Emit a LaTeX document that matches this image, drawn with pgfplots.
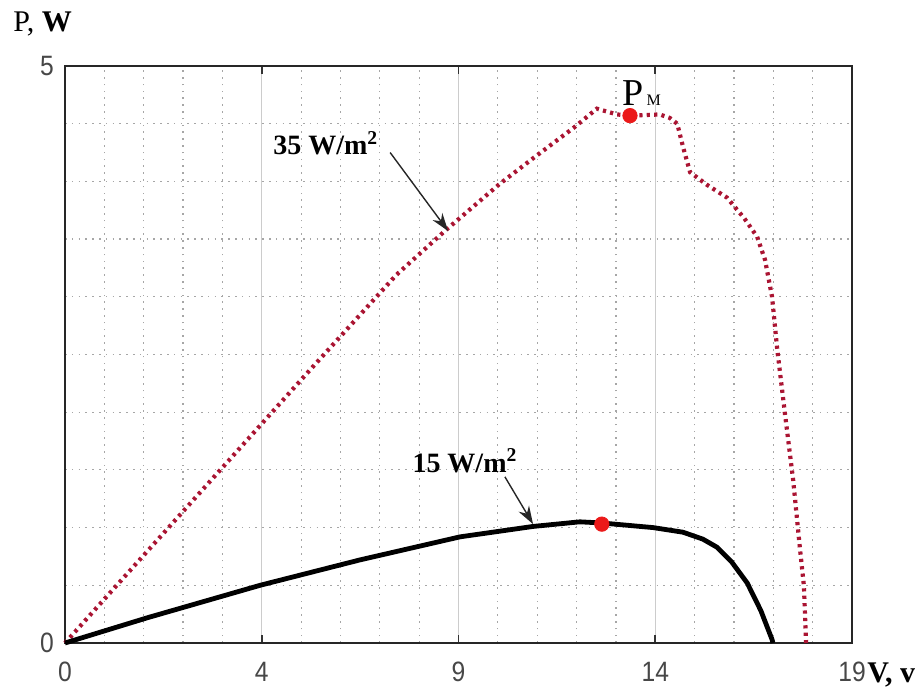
\documentclass[border=0pt]{standalone}
\usepackage{fontspec}
\setmainfont{Liberation Serif}
\newfontfamily\tickfont[FakeStretch=0.88]{Liberation Sans}
\usepackage{pgfplots}
\pgfplotsset{compat=1.18}
\usetikzlibrary{arrows.meta}
\definecolor{redline}{RGB}{170,20,50}
\definecolor{dotred}{RGB}{235,25,25}
\begin{document}
\begin{tikzpicture}
\useasboundingbox (-32.5pt,-23.5pt) rectangle (427.5pt,321.5pt);
\begin{axis}[
  at={(0,0)}, anchor=south west, scale only axis,
  width=393.5pt, height=288.5pt,
  xmin=0,xmax=19,ymin=0,ymax=5,
  xtick={0,4.75,9.5,14.25,19}, xticklabels={0,4,9,14,19},
  ytick={0,5}, yticklabels={0,5},
  minor x tick num=4, minor y tick num=9,
  grid=both,
  major grid style={draw=black!20, line width=0.6pt},
  minor grid style={draw=black!35, line width=0.6pt, dash pattern=on 0.8pt off 2.6pt},
  axis line style={draw=black!85, line width=1pt},
  major tick length=4pt, minor tick length=0pt,
  tick style={draw=black!80, line width=0.8pt},
  tick label style={font=\tickfont\fontsize{14}{14}\selectfont, text=black!72},
  xticklabel style={yshift=-6pt},
  yticklabel style={xshift=-2pt},
  clip=false,
]
\addplot[redline, line width=2.1pt, dash pattern=on 1.6pt off 2.1pt] coordinates {
(0,0)(2,0.8)(4,1.6)(6,2.4)(8,3.19)(9.2,3.58)(10.5,3.98)(11.3,4.2)(12.3,4.47)(12.84,4.63)(13.33,4.58)(13.64,4.57)(14.36,4.58)(14.6,4.55)(14.78,4.5)(14.92,4.30)(15.09,4.08)(15.5,3.97)(15.98,3.86)(16.4,3.68)(16.71,3.52)(16.9,3.32)(17.07,3.0)(17.19,2.56)(17.38,1.99)(17.58,1.41)(17.74,0.83)(17.84,0.49)(17.89,0)
};
\addplot[black, line width=2.4pt] coordinates {
(0,0)(2,0.22)(4.71,0.50)(7.12,0.72)(9.54,0.92)(11.3,1.01)(12.43,1.05)(12.96,1.04)(14.2,1.0)(14.92,0.96)(15.4,0.9)(15.74,0.83)(16.1,0.7)(16.47,0.52)(16.8,0.28)(17.07,0.03)(17.09,0)
};
\addplot[only marks, mark=*, mark size=3.6pt, mark options={draw=dotred, fill=dotred}] coordinates {(13.64,4.57)(12.96,1.03)};
\draw[black!85, line width=0.7pt, -{Stealth[length=9pt,width=6pt]}] (axis cs:7.85,4.25) -- (axis cs:9.25,3.57);
\draw[black!85, line width=0.7pt, -{Stealth[length=9pt,width=6pt]}] (axis cs:10.62,1.44) -- (axis cs:11.30,1.03);
\node[anchor=base west, inner sep=0, font=\bfseries\fontsize{14}{14}\selectfont] at (axis cs:5.02,4.23) {35 W/m\textsuperscript{2}};
\node[anchor=base west, inner sep=0, font=\bfseries\fontsize{14}{14}\selectfont] at (axis cs:8.38,1.48) {15 W/m\textsuperscript{2}};
\node[anchor=base west, inner sep=0, font=\fontsize{19}{19}\selectfont] at (axis cs:13.45,4.66) {P\kern1.5pt{\fontsize{8}{8}\selectfont M}};
\node[anchor=base west, inner sep=0, font=\fontsize{15}{15}\selectfont] at (rel axis cs:-0.066,1.059) {P, \textbf{W}};
\node[anchor=base west, inner sep=0, font=\bfseries\fontsize{15}{15}\selectfont] at (rel axis cs:1.019,-0.0676) {V, v};
\end{axis}
\end{tikzpicture}
\end{document}
